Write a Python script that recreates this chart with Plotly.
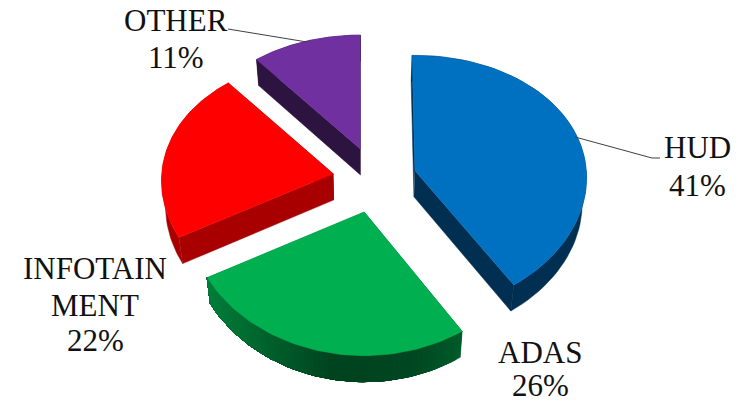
import numpy as np
import plotly.graph_objects as go

# Data
categories = ["HUD", "ADAS", "INFOTAINMENT", "OTHER"]
shares = [41, 26, 22, 11]
top_colors = ["#0070C0", "#00B050", "#FF0000", "#7030A0"]
label_lines = [["HUD", "41%"], ["ADAS", "26%"], ["INFOTAIN", "MENT", "22%"], ["OTHER", "11%"]]
label_x = [697, 540, 95, 176]
label_y = [[147, 185], [352, 385], [268, 305, 340], [20, 57]]
leaders = [([575, 652, 660], [137, 158, 158]), ([228, 307], [29, 42])]

# Pictorial projection of the exploded 3D pie, in page pixels
CX, CY = 374.6, 180.0
EX, EY = 42.0, 33.0
R, A = 172.0, 127.0
PX, PY = 0.055, 0.094
EXPL = 0.245
DEPTH = 26.0
BASE_CX, BASE_S = 365.0, 0.98
SLICE_TURN = [-1.0, 0.0, 0.0, 0.0]  # degrees


def top_point(theta, bis, r=1.0):
    ax = CX + EX * np.sin(bis)
    ay = CY - EY * np.cos(bis)
    lx, ly = r * np.sin(theta), r * np.cos(theta)
    yw = EXPL * np.cos(bis) + ly
    return ax + R * lx / (1 + PX * yw), ay - A * ly / (1 + PY * yw)


def base(pt):
    return BASE_CX + (pt[0] - BASE_CX) * BASE_S, pt[1] + DEPTH


def shade(hex_color, f):
    c = [int(hex_color[i:i + 2], 16) for i in (1, 3, 5)]
    return "#%02x%02x%02x" % tuple(int(round(v * f)) for v in c)


def green_side(deg):
    return float(np.interp(deg, [147, 165, 190, 205, 222, 242], [0.52, 0.40, 0.38, 0.50, 0.62, 0.72]))


side_factor = {0: lambda d: 0.42, 1: green_side, 2: lambda d: 0.66, 3: lambda d: 0.40}
graded = {1}

fig = go.Figure()


def poly(points, color):
    xs, ys = zip(*points)
    fig.add_trace(go.Scatter(x=list(xs), y=list(ys), mode="lines", fill="toself", fillcolor=color,
                             line=dict(color=color, width=0.5), hoverinfo="skip", showlegend=False))


edges = np.cumsum([0] + shares) / sum(shares) * 2 * np.pi
for i, col in enumerate(top_colors):
    bis = (edges[i] + edges[i + 1]) / 2
    turn = np.radians(SLICE_TURN[i])
    t0, t1 = edges[i] + turn, edges[i + 1] + turn
    ths = np.linspace(t0, t1, 61)
    apex = top_point(0, bis, 0.0)
    # radial walls
    for edge in (t0, t1):
        p = top_point(edge, bis)
        poly([apex, p, base(p), base(apex)], shade(col, side_factor[i](np.degrees(edge))))
    # outer wall
    if i in graded:
        for k in range(60):
            rest = ths[k:]
            tops = [top_point(t, bis) for t in rest]
            poly(tops + [base(p) for p in tops[::-1]],
                 shade(col, side_factor[i](np.degrees((ths[k] + ths[k + 1]) / 2))))
    else:
        tops = [top_point(t, bis) for t in ths]
        poly(tops + [base(p) for p in tops[::-1]], shade(col, side_factor[i](np.degrees(bis))))
    # top face
    poly([apex] + [top_point(t, bis) for t in ths], col)

for xs, ys in leaders:
    fig.add_trace(go.Scatter(x=xs, y=ys, mode="lines", line=dict(color="#404040", width=1),
                             hoverinfo="skip", showlegend=False))

for lines, x, ys in zip(label_lines, label_x, label_y):
    for t, y in zip(lines, ys):
        fig.add_annotation(x=x, y=y, text=t, showarrow=False, xanchor="center", yanchor="middle",
                           borderpad=0, borderwidth=0,
                           font=dict(family="Liberation Serif", size=31, color="#111111"))

fig.update_layout(width=748, height=404, margin=dict(l=0, r=0, t=0, b=0),
                  paper_bgcolor="white", plot_bgcolor="white",
                  xaxis=dict(range=[0, 748], visible=False, fixedrange=True),
                  yaxis=dict(range=[404, 0], visible=False, fixedrange=True))
fig.write_html("out.html", config={"displayModeBar": False},
               post_script="document.body.style.margin='0';document.documentElement.style.overflow='hidden';")
